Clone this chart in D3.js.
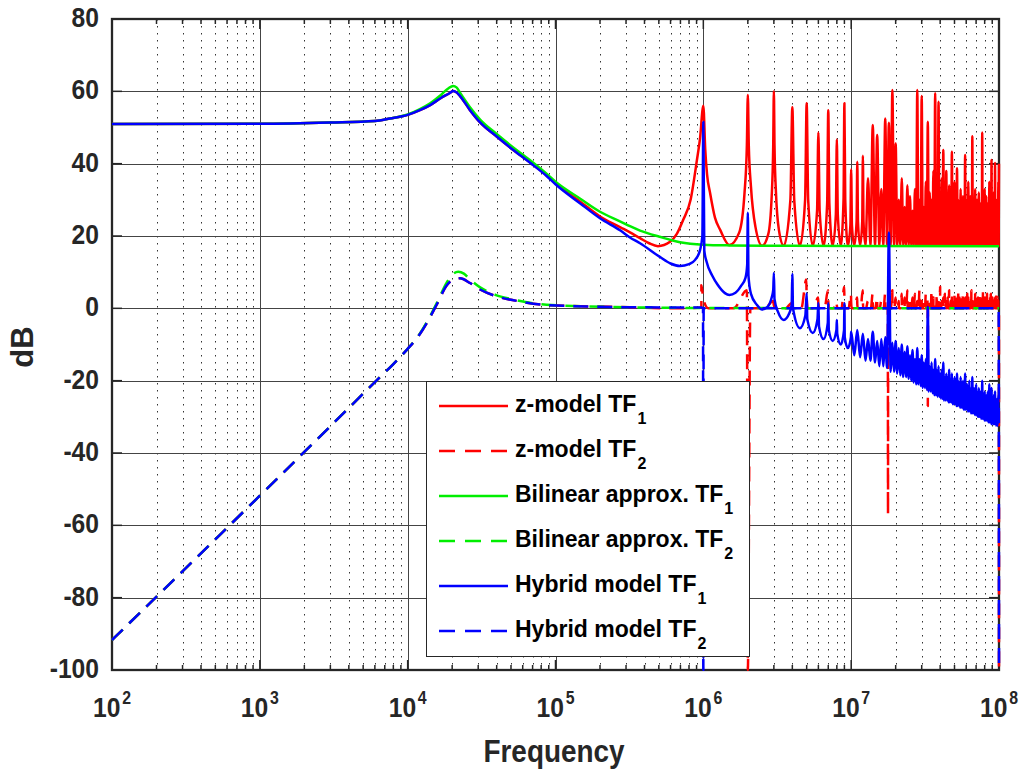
<!DOCTYPE html>
<html>
<head>
<meta charset="utf-8">
<script src="https://cdn.jsdelivr.net/npm/d3@7"></script>
<style>
  body { margin: 0; background: #fff; }
  text { font-family: "Liberation Sans", Arial, Helvetica, sans-serif; font-weight: bold; fill: #262626; }
</style>
</head>
<body>
<svg id="chart" width="1021" height="772"></svg>
<script>
// ---------- axis ticks ----------
const xDecadeExps = [2, 3, 4, 5, 6, 7, 8];
const yTickValues = [-100, -80, -60, -40, -20, 0, 20, 40, 60, 80];

// ---------- smooth parts of the responses, [frequency Hz, dB] ----------
const hybridTF1Smooth = [
  [1e2, 51.0], [1e3, 51.05], [3e3, 51.4], [6e3, 51.8], [7.6e3, 52.5], [1e4, 53.5],
  [1.21e4, 54.8], [1.42e4, 56.2], [1.67e4, 58.1], [1.94e4, 59.6], [2.03e4, 60.1],
  [2.12e4, 59.8], [2.26e4, 58.7], [2.64e4, 54.8], [3.09e4, 51.4], [4e4, 47.5],
  [5.1e4, 44.0], [6.7e4, 40.3], [8.7e4, 36.6], [1e5, 34.3], [1.47e5, 29.0],
  [2e5, 24.9], [2.75e5, 21.5], [3.19e5, 19.6], [3.73e5, 18.0], [5.05e5, 14.3],
  [6.0e5, 12.4], [6.95e5, 11.7], [8.0e5, 12.2], [8.8e5, 13.4], [9.5e5, 16.1],
  [9.85e5, 20.0]
];
const zTF1Smooth = [
  [1e2, 51.0], [1e3, 51.05], [3e3, 51.4], [6e3, 51.8], [7.6e3, 52.5], [1e4, 53.5],
  [1.21e4, 54.8], [1.42e4, 56.2], [1.67e4, 58.1], [1.94e4, 59.6], [2.03e4, 60.1],
  [2.12e4, 59.8], [2.26e4, 58.7], [2.64e4, 54.8], [3.09e4, 51.4], [4e4, 47.5],
  [5.1e4, 44.0], [6.7e4, 40.4], [8.7e4, 36.8], [1e5, 34.6], [1.47e5, 29.5],
  [2e5, 25.4], [2.75e5, 22.4], [3.19e5, 21.0], [3.73e5, 19.4], [4.3e5, 18.0],
  [4.93e5, 17.2], [5.96e5, 18.4], [6.6e5, 20.5], [7.3e5, 24.4], [8.2e5, 30.0],
  [9.05e5, 41.0], [9.5e5, 47.0]
];
const bilinearTF1 = [
  [1e2, 51.0], [1e3, 51.05], [3e3, 51.4], [6e3, 51.8], [7.6e3, 52.5], [1e4, 53.6],
  [1.21e4, 55.1], [1.42e4, 56.7], [1.67e4, 58.9], [1.88e4, 60.8], [2.03e4, 61.5],
  [2.14e4, 61.1], [2.26e4, 59.6], [2.64e4, 55.6], [3.09e4, 52.2], [4e4, 48.2],
  [5.1e4, 44.7], [6.7e4, 41.0], [8.7e4, 37.2], [1e5, 35.0], [1.47e5, 30.3],
  [2e5, 26.7], [2.75e5, 24.0], [3.19e5, 22.7], [3.73e5, 21.5], [5.05e5, 19.8],
  [6.95e5, 18.3], [1e6, 17.6], [1.5e6, 17.4], [3e6, 17.3], [1e7, 17.25], [1e8, 17.2]
];
const hybridTF2Smooth = [
  [1e2, -91.7], [1e3, -51.8], [3e3, -32.6], [6e3, -20.4], [8e3, -15.4], [1e4, -11.2],
  [1.2e4, -7.3], [1.34e4, -4.2], [1.58e4, 1.2], [1.84e4, 6.4], [2.03e4, 7.9],
  [2.26e4, 8.3], [2.64e4, 7.0], [3.09e4, 5.2], [4e4, 3.3], [5.1e4, 2.3],
  [8.7e4, 0.9], [3.2e5, 0.3], [9.7e5, 0.2]
];
const bilinearTF2 = [
  [1e2, -91.7], [1e3, -51.8], [3e3, -32.6], [6e3, -20.4], [8e3, -15.4], [1e4, -11.2],
  [1.2e4, -7.2], [1.34e4, -4.0], [1.58e4, 1.6], [1.84e4, 7.2], [2.03e4, 9.5],
  [2.2e4, 10.1], [2.4e4, 9.6], [2.64e4, 8.0], [3.09e4, 5.8], [4e4, 3.6],
  [5.1e4, 2.5], [8.7e4, 1.0], [3.2e5, 0.3], [1e6, 0.1], [1e8, 0.0]
];

// ---------- resonances above 1 MHz (harmonic index n -> n MHz) ----------
const harmonicIdx = d3.range(1, 101);
// z-model TF1: first resonances with their flanks, [MHz, dB]
const zTF1FirstRes = [
  [1.0, 56.0], [1.03, 44.0], [1.06, 37.0], [1.11, 32.0], [1.2, 25.0], [1.3, 21.7],
  [1.5, 17.5], [1.75, 21.0], [1.9, 32.0], [1.97, 45.0], [2.0, 59.0], [2.03, 45.0],
  [2.1, 33.6], [2.25, 22.6], [2.5, 17.3], [2.75, 20.5], [2.9, 31.0], [2.97, 45.0],
  [3.0, 60.0], [3.03, 45.0], [3.1, 32.0], [3.25, 21.5], [3.5, 17.3]
];
// peak level of every resonance n = 1..100
const zTF1PeakDb = [
  56, 59, 60, 55.6, 56.7, 48.6, 54.8, 46.7, 56.7, 38.4,
  40.5, 42.2, 36, 50.7, 47.9, 33, 52.5, 51.3, 60.4, 45.6,
  30, 36, 28, 34, 31, 27, 33, 60.4, 30, 58.7,
  28, 35, 51.6, 32, 30, 38, 59.5, 34, 57.1, 30,
  36, 43.8, 30, 38, 28, 34, 30, 43.3, 27, 35,
  29, 38.7, 30, 26, 33, 28, 31, 27, 42.4, 30,
  26, 35, 28, 31, 27, 47.6, 29, 26, 33, 28,
  30, 25, 32, 27, 29, 25, 48.6, 30, 26, 33,
  28, 31, 25, 29, 27, 35, 26, 30, 41, 28,
  26, 32, 27, 40.2, 28, 25, 30, 26, 35, 40
];
// level on each side of resonances n = 4..12, just off the peak
const zTF1ShoulderDb = [30, 30, 27, 29, 26, 30, 23, 24, 24];
const zTF1FloorDb = 17.3;

// Hybrid TF1: first ten resonances, [MHz, dB]
const hybridTF1FirstRes = [
  [1.0, 51.5], [1.015, 16.0], [1.05, 13.0], [1.15, 9.0], [1.25, 6.5], [1.4, 4.2],
  [1.5, 3.7], [1.65, 4.3], [1.8, 6.2], [1.93, 8.5], [1.98, 12.0], [2.0, 26.4],
  [2.02, 9.0], [2.1, 4.0], [2.3, 1.0], [2.5, -0.3], [2.7, 0.3], [2.9, 3.0],
  [2.97, 5.0], [3.0, 9.8], [3.03, 2.5], [3.2, -1.0], [3.5, -3.2], [3.8, -1.5],
  [3.96, 1.0], [4.0, 9.5], [4.04, 0.0], [4.5, -5.5], [4.9, -2.0], [5.0, 4.2],
  [5.05, -3.0], [5.5, -6.8], [5.92, -3.0], [6.0, 1.5], [6.06, -5.0], [6.5, -8.5],
  [6.95, -4.0], [7.0, 1.5], [7.06, -6.0], [7.5, -9.0], [7.95, -6.0], [8.0, -3.2],
  [8.05, -7.0], [8.5, -10.0], [8.95, -6.0], [9.0, 1.5], [9.05, -8.0], [9.5, -11.0],
  [9.96, -8.0]
];
// Hybrid TF1 peaks for n = 10..100 and the dips after n = 10..99
const hybridTF1PeakDb = [
  -6.5, -6, -7, -8.5, -6.5, -9, -8.5, -8, 21, -9.5,
  -9, -11, -10, -12, -10.5, -13, -11.5, -14, -11, -14,
  -13, -15, -14, 0.4, -16, -15, -17, -14, -17, -16,
  -18, -17, -15, -19, -18, -19, -17, -20, -18, -20,
  -19, -21, -18, -20, -21, -19, -22, -20, -21, -18,
  -22, -21, -23, -20, -22, -23, -19, -23, -22, -24,
  -21, -23, -24, -22, -25, -23, -24, -20, -25, -24,
  -23, -25, -24, -26, -23, -25, -21, -26, -24, -22,
  -26, -25, -24, -27, -23, -26, -27, -25, -28, -24,
  51
];
const hybridTF1DipDb = [
  -13, -13.5, -14.5, -14.5, -15, -16, -16, -16.5, -17.5, -17.5,
  -18, -18.5, -19, -19, -19.5, -20, -20.5, -21, -21, -21.5,
  -22, -22, -22.5, -23, -23, -23.5, -24, -24, -24.5, -24.5,
  -25, -25, -25.5, -25.5, -25.5, -26, -26, -26, -26.5, -26.5,
  -26.5, -27, -27, -27, -27.5, -27.5, -27.5, -28, -28, -28,
  -28, -28.5, -28.5, -28.5, -29, -29, -29, -29, -29.5, -29.5,
  -29.5, -30, -30, -30, -30, -30.5, -30.5, -30.5, -30.5, -31,
  -31, -31, -31, -31, -31.5, -31.5, -31.5, -31.5, -32, -32,
  -31.5, -32, -32, -32, -32, -32.5, -32, -32.5, -32
];

// z-model TF2: small bumps at each resonance, with a few deep notches
const zTF2BumpDb = [
  6.4, 5, 2, 1.5, 8, 3, 5, 2, 6, 4,
  3, 5, 2, 4, 3, 2, 4, 9, 5, 3,
  2, 4, 3, 5, 2, 3, 4, 2, 5, 3,
  2, 4, 3, 2, 5, 3, 2, 4, 3, 6,
  2, 3, 4, 2, 3, 5, 2, 3, 2, 4,
  3, 2, 5, 3, 2, 3, 4, 2, 3, 2,
  4, 3, 2, 3, 5, 2, 3, 2, 4, 3,
  2, 3, 2, 4, 3, 2, 3, 5, 2, 3,
  2, 3, 4, 2, 3, 2, 3, 4, 2, 3,
  2, 3, 2, 3, 2, 4, 2, 3, 2, 0
];
const zTF2Notches = [[2.0, -100], [17.75, -57], [33.0, -27], [100.0, -100]];

// ---------- build the full curves (frequency in Hz) ----------
const MHz = 1e6;
function buildZTF1() {
  const pts = zTF1Smooth.slice();
  zTF1FirstRes.forEach(([f, v]) => pts.push([f * MHz, v]));
  harmonicIdx.forEach((n, i) => {
    if (n <= 3) return;
    const pk = zTF1PeakDb[i];
    pts.push([(n - 0.5) * MHz, zTF1FloorDb]);
    if (n <= 12) pts.push([(n - 0.12) * MHz, zTF1ShoulderDb[n - 4]]);
    pts.push([n * MHz, pk]);
    if (n <= 12) pts.push([(n + 0.12) * MHz, zTF1ShoulderDb[n - 4]]);
  });
  return pts;
}
function buildHybridTF1() {
  const pts = hybridTF1Smooth.slice();
  hybridTF1FirstRes.forEach(([f, v]) => pts.push([f * MHz, v]));
  harmonicIdx.forEach(n => {
    if (n < 10) return;
    pts.push([n * MHz, hybridTF1PeakDb[n - 10]]);
    if (n < 100) pts.push([(n + 0.5) * MHz, hybridTF1DipDb[n - 10]]);
  });
  return pts;
}
function buildZTF2() {
  const pts = hybridTF2Smooth.slice();
  harmonicIdx.forEach((n, i) => {
    const notch = zTF2Notches.find(d => Math.abs(d[0] - n) < 0.5);
    pts.push([(n - 0.4) * MHz, 0]);
    if (notch && notch[0] !== n) {
      pts.push([(notch[0] - 0.05) * MHz, 0]);
      pts.push([notch[0] * MHz, notch[1]]);
      pts.push([(notch[0] + 0.05) * MHz, 0]);
    }
    pts.push([(n - 0.03) * MHz, zTF2BumpDb[i]]);
    if (notch && notch[0] === n) pts.push([n * MHz, notch[1]]);
    else pts.push([n * MHz, zTF2BumpDb[i] * 0.4]);
    if (n < 100) pts.push([(n + 0.08) * MHz, 0]);
  });
  return pts;
}
function buildHybridTF2() {
  const pts = hybridTF2Smooth.slice();
  pts.push([0.995 * MHz, 0]);
  pts.push([1.0 * MHz, -100]);
  pts.push([1.005 * MHz, 0]);
  pts.push([99.5 * MHz, 0]);
  pts.push([100 * MHz, -100]);
  return pts;
}

// ---------- layout ----------
const svg = d3.select("#chart");
const plot = { left: 112, right: 999, top: 19, bottom: 670 };
const x = d3.scaleLog().domain([1e2, 1e8]).range([plot.left, plot.right]);
const y = d3.scaleLinear().domain([-100, 80]).range([plot.bottom, plot.top]);

svg.append("rect").attr("x", plot.left).attr("y", plot.top)
  .attr("width", plot.right - plot.left).attr("height", plot.bottom - plot.top)
  .attr("fill", "#fff");

// grid
const grid = svg.append("g");
const minorFreqs = [];
xDecadeExps.slice(0, -1).forEach(e => { for (let k = 2; k <= 9; k++) minorFreqs.push(k * Math.pow(10, e)); });
grid.selectAll(".minor").data(minorFreqs).join("line")
  .attr("x1", d => Math.round(x(d)) + 0.5).attr("x2", d => Math.round(x(d)) + 0.5)
  .attr("y1", plot.top).attr("y2", plot.bottom)
  .attr("stroke", "#333").attr("stroke-width", 1).attr("stroke-dasharray", "1.5,5.5");
grid.selectAll(".majx").data(xDecadeExps.slice(1, -1)).join("line")
  .attr("x1", d => Math.round(x(Math.pow(10, d))) + 0.5).attr("x2", d => Math.round(x(Math.pow(10, d))) + 0.5)
  .attr("y1", plot.top).attr("y2", plot.bottom)
  .attr("stroke", "#444").attr("stroke-width", 1);
grid.selectAll(".majy").data(yTickValues.slice(1, -1)).join("line")
  .attr("x1", plot.left).attr("x2", plot.right)
  .attr("y1", d => Math.round(y(d)) + 0.5).attr("y2", d => Math.round(y(d)) + 0.5)
  .attr("stroke", "#444").attr("stroke-width", 1);

// axes box and ticks (drawn beneath the curves)
const axisColor = "#262626";
const ticks = svg.append("g").attr("stroke", axisColor).attr("stroke-width", 1.5);
xDecadeExps.forEach(e => {
  const xp = x(Math.pow(10, e));
  ticks.append("line").attr("x1", xp).attr("x2", xp).attr("y1", plot.bottom).attr("y2", plot.bottom - 10);
  ticks.append("line").attr("x1", xp).attr("x2", xp).attr("y1", plot.top).attr("y2", plot.top + 10);
});
minorFreqs.forEach(f => {
  const xp = x(f);
  ticks.append("line").attr("x1", xp).attr("x2", xp).attr("y1", plot.bottom).attr("y2", plot.bottom - 5);
  ticks.append("line").attr("x1", xp).attr("x2", xp).attr("y1", plot.top).attr("y2", plot.top + 5);
});
yTickValues.forEach(v => {
  const yp = y(v);
  ticks.append("line").attr("x1", plot.left).attr("x2", plot.left + 10).attr("y1", yp).attr("y2", yp);
  ticks.append("line").attr("x1", plot.right).attr("x2", plot.right - 10).attr("y1", yp).attr("y2", yp);
});
svg.append("rect").attr("x", plot.left).attr("y", plot.top)
  .attr("width", plot.right - plot.left).attr("height", plot.bottom - plot.top)
  .attr("fill", "none").attr("stroke", axisColor).attr("stroke-width", 2.3);

// curves
svg.append("clipPath").attr("id", "plotClip").append("rect")
  .attr("x", plot.left - 2).attr("y", plot.top - 2)
  .attr("width", plot.right - plot.left + 4).attr("height", plot.bottom - plot.top + 3);
const lines = svg.append("g").attr("clip-path", "url(#plotClip)");
const line = d3.line().x(d => x(d[0])).y(d => y(Math.max(d[1], -100.4))).curve(d3.curveMonotoneX);
const byFreq = pts => pts.slice().sort((a, b) => a[0] - b[0]);

const series = [
  { name: "z-model TF", sub: "1", color: "#ff0000", dash: null, data: byFreq(buildZTF1()) },
  { name: "z-model TF", sub: "2", color: "#ff0000", dash: "15,9", data: byFreq(buildZTF2()) },
  { name: "Bilinear approx. TF", sub: "1", color: "#00ee00", dash: null, data: bilinearTF1 },
  { name: "Bilinear approx. TF", sub: "2", color: "#00ee00", dash: "15,9", data: bilinearTF2 },
  { name: "Hybrid model TF", sub: "1", color: "#0000ff", dash: null, data: byFreq(buildHybridTF1()) },
  { name: "Hybrid model TF", sub: "2", color: "#0000ff", dash: "15,9", data: byFreq(buildHybridTF2()) }
];
series.forEach(s => {
  lines.append("path").attr("d", line(s.data)).attr("fill", "none")
    .attr("stroke", s.color).attr("stroke-width", 2.5)
    .attr("stroke-linejoin", "round")
    .attr("stroke-dasharray", s.dash);
});

// y tick labels
yTickValues.forEach(v => {
  svg.append("text").attr("transform", `translate(99,${y(v) + 8}) scale(0.88,1)`)
    .attr("text-anchor", "end").style("font-size", "28px").text(v);
});
// x tick labels 10^n
xDecadeExps.forEach(e => {
  const t = svg.append("text").attr("transform", `translate(${x(Math.pow(10, e))},717) scale(0.88,1)`)
    .attr("text-anchor", "middle").style("font-size", "28px");
  t.append("tspan").text("10");
  t.append("tspan").attr("dy", -13.5).attr("dx", 2).style("font-size", "18px").text(e);
});

// axis titles
svg.append("text").attr("transform", "translate(554,762) scale(0.9,1)")
  .attr("text-anchor", "middle").style("font-size", "31px").text("Frequency");
svg.append("text").attr("transform", "translate(33,347) rotate(-90)")
  .attr("text-anchor", "middle").style("font-size", "31px").text("dB");

// legend
const legend = svg.append("g");
legend.append("rect").attr("x", 426.5).attr("y", 381.5).attr("width", 323).attr("height", 275)
  .attr("fill", "#fff").attr("stroke", "#262626").attr("stroke-width", 1);
const rowY = d3.scaleLinear().domain([0, 5]).range([406, 631]);
series.forEach((s, i) => {
  const yy = rowY(i);
  legend.append("line").attr("x1", 439).attr("x2", 508).attr("y1", yy).attr("y2", yy)
    .attr("stroke", s.color).attr("stroke-width", 2.5)
    .attr("stroke-dasharray", s.dash ? "16,10" : null);
  const t = legend.append("text").attr("transform", `translate(515,${yy + 5.5})`)
    .style("font-size", "23px").style("fill", "#000");
  t.append("tspan").text(s.name);
  t.append("tspan").attr("dy", 12).attr("dx", 1).style("font-size", "16px").text(s.sub);
});
</script>
</body>
</html>
